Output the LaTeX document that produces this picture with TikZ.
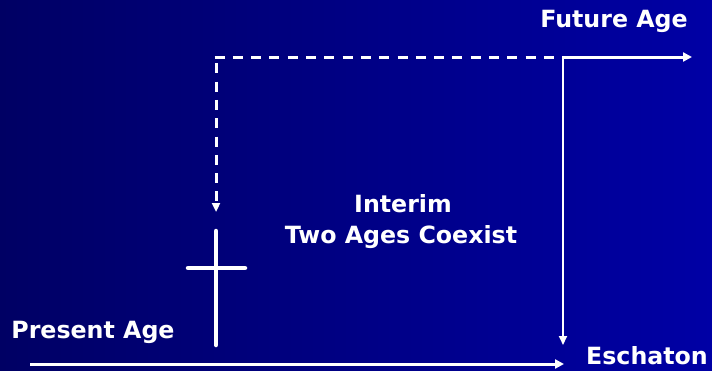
\documentclass[tikz,border=0pt]{standalone}
\usepackage{fontspec}
\setmainfont{DejaVu Sans}
\usetikzlibrary{arrows.meta}
\definecolor{bgleft}{RGB}{0,0,100}
\definecolor{bgright}{RGB}{0,0,165}
\begin{document}
\begin{tikzpicture}[x=1pt,y=-1pt,
  lbl/.style={text=white,font=\fontsize{23.7}{28}\selectfont\bfseries,inner sep=0pt,anchor=base},
  arr/.style={white,line width=3pt,-{Triangle[length=9pt,width=9pt]}},
  thinarr/.style={white,line width=2pt,-{Triangle[length=9pt,width=8pt]}},
  dashline/.style={white,line width=3pt,dash pattern=on 10pt off 8.3pt},
  dasharr/.style={dashline,dash phase=12pt,-{Triangle[length=9pt,width=8pt]}},
  crossline/.style={white,line width=4.5pt,line cap=round}]
\useasboundingbox (0,0) rectangle (712,370);
\shade[left color=bgleft,right color=bgright] (0,0) rectangle (712,370);
% coordinates
\coordinate (pa0) at (30,364);
\coordinate (pa1) at (564,364);
\coordinate (fa0) at (563,57);
\coordinate (fa1) at (692,57);
\coordinate (dc) at (216,57);
\coordinate (dt) at (216,212);
\coordinate (ve) at (563,345);
\coordinate (ct) at (216,231);
\coordinate (cb) at (216,345);
\coordinate (cl) at (188,268);
\coordinate (cr) at (245,268);
% texts
\node[lbl] (future) at (614,27) {Future Age};
\node[lbl] (interim) at (403,212) {Interim};
\node[lbl] (coexist) at (401,243) {Two Ages Coexist};
\node[lbl] (present) at (93,338) {Present Age};
\node[lbl] (eschaton) at (647,364) {Eschaton};
% arrows
\draw[arr] (pa0) -- (pa1);
\draw[arr] (fa0) -- (fa1);
\draw[thinarr] (fa0) -- (ve);
\draw[dashline] ([xshift=-1.5pt]dc) -- (fa0);
\draw[dasharr] (dc) -- (dt);
% cross
\draw[crossline] (ct) -- (cb);
\draw[crossline] (cl) -- (cr);
\end{tikzpicture}
\end{document}
